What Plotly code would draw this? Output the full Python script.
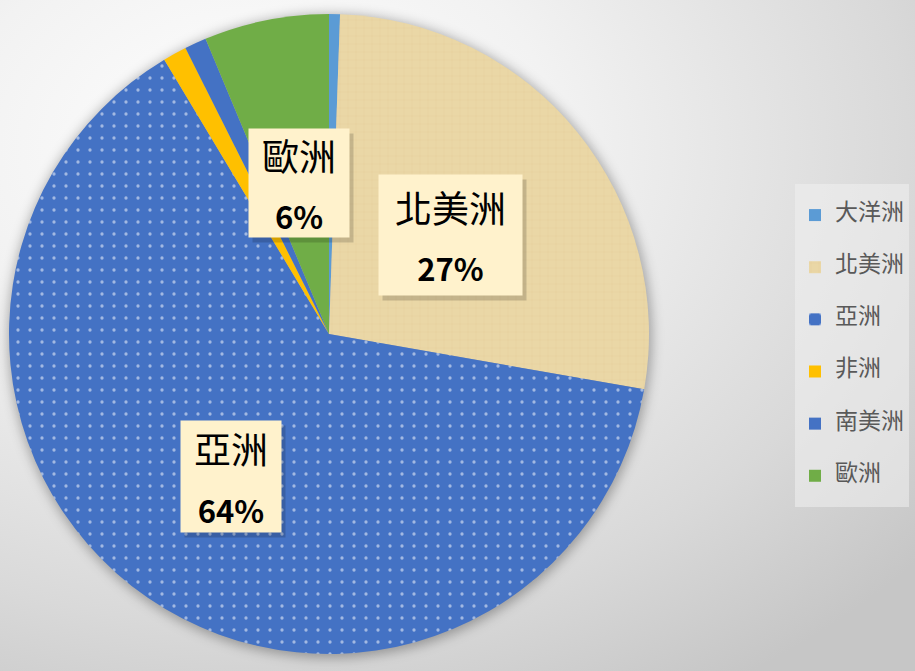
import base64
import math
import plotly.graph_objects as go

# ---------------- data ----------------
categories = ["大洋洲", "北美洲", "亞洲", "非洲", "南美洲", "歐洲"]
values = [0.55, 27.2, 63.6, 1.2, 1.1, 6.3]
slice_colors = ["#5B9BD5", "#EAD7A6", "#4472C4", "#FFC000", "#4472C4", "#70AD47"]

# ---------------- layout geometry / styles ----------------
W, H = 915, 671
CX, CY, R = 329, 334, 320          # pie centre and radius in px
label_min_share = 5.0              # only label slices above this percentage
label_radius = {"北美洲": 0.49, "亞洲": 0.54, "歐洲": 0.48}
label_box = {"北美洲": (143, 120), "亞洲": (100, 111), "歐洲": (100, 108)}
FONT = "Noto Sans CJK TC"

dom_x = [(CX - R) / W, (CX + R) / W]
dom_y = [1 - (CY + R) / H, 1 - (CY - R) / H]

# background: soft radial gradient + blurred shadow under the pie
svg = f"""<svg xmlns='http://www.w3.org/2000/svg' width='{W}' height='{H}' viewBox='0 0 {W} {H}'>
<defs>
<radialGradient id='g' cx='0.28' cy='0.22' r='0.95'>
<stop offset='0' stop-color='#FFFFFF'/>
<stop offset='0.35' stop-color='#F2F2F2'/>
<stop offset='0.75' stop-color='#D9D9D9'/>
<stop offset='1' stop-color='#C6C6C6'/>
</radialGradient>
<filter id='b' x='-20%' y='-20%' width='140%' height='140%'><feGaussianBlur stdDeviation='6'/></filter>
</defs>
<rect width='{W}' height='{H}' fill='url(#g)'/>
<circle cx='{CX + 1}' cy='{CY + 2}' r='{R + 2}' fill='rgba(0,0,0,0.30)' filter='url(#b)'/>
</svg>"""
bg_src = "data:image/svg+xml;base64," + base64.b64encode(svg.encode("utf-8")).decode()

# legend labels: padded lines so entries get the reference's spacing
legend_labels = [f"\u00a0<br><span style='font-size:23px'>{c}</span><br>\u00a0" for c in categories]

fig = go.Figure()
fig.add_trace(go.Pie(
    labels=legend_labels,
    values=values,
    sort=False,
    direction="clockwise",
    rotation=0,
    textinfo="none",
    hoverinfo="skip",
    domain=dict(x=dom_x, y=dom_y),
    marker=dict(
        colors=slice_colors,
        line=dict(width=0),
        pattern=dict(
            shape=["", "+", ".", "", "", ""],
            fillmode="overlay",
            fgcolor=["#FFFFFF", "#DCC48F", "#FFFFFF", "#FFFFFF", "#FFFFFF", "#FFFFFF"],
            size=[12, 8, 12, 12, 12, 12],
            solidity=[0.04, 0.1, 0.06, 0.04, 0.04, 0.04],
        ),
    ),
))

# data labels in cream boxes, placed at each slice's mid-angle
total = sum(values)
cum = 0.0
annotations = []
for cat, v in zip(categories, values):
    share = v / total * 100
    mid = (cum + v / 2) / total * 2 * math.pi
    cum += v
    if share < label_min_share:
        continue
    f = label_radius[cat]
    px = CX + f * R * math.sin(mid)
    py = CY - f * R * math.cos(mid)
    bw, bh = label_box[cat]
    txt = (f"<span style='font-size:37px'>{cat}</span><br>"
           f"<b><span style='font-size:31px'>{round(share)}%</span></b>")
    common = dict(x=px / W, y=1 - py / H, xref="paper", yref="paper",
                  xanchor="center", yanchor="middle",
                  showarrow=False, width=bw, height=bh, borderpad=0,
                  align="center", valign="middle")
    # soft drop shadow box
    annotations.append(dict(common, text="\u00a0", xshift=4, yshift=-5,
                            bgcolor="rgba(0,0,0,0.16)",
                            font=dict(family=FONT, size=12, color="rgba(0,0,0,0)")))
    annotations.append(dict(common, text=txt, bgcolor="#FFF2CC",
                            font=dict(family=FONT, size=45, color="#000000")))

fig.update_layout(
    width=W, height=H,
    margin=dict(l=0, r=0, t=0, b=0),
    paper_bgcolor="#FFFFFF",
    images=[dict(source=bg_src, xref="paper", yref="paper", x=0, y=1,
                 sizex=1, sizey=1, sizing="stretch", layer="below",
                 xanchor="left", yanchor="top")],
    showlegend=True,
    legend=dict(
        x=795 / W, y=1 - 184 / H, xanchor="left", yanchor="top",
        bgcolor="rgba(240,240,240,0.55)", borderwidth=0,
        font=dict(family=FONT, size=12.6, color="#595959"),
        itemclick=False, itemdoubleclick=False,
    ),
    annotations=annotations,
)

fig.write_html("out.html", config={"displayModeBar": False},
               post_script="document.body.style.margin='0';")
